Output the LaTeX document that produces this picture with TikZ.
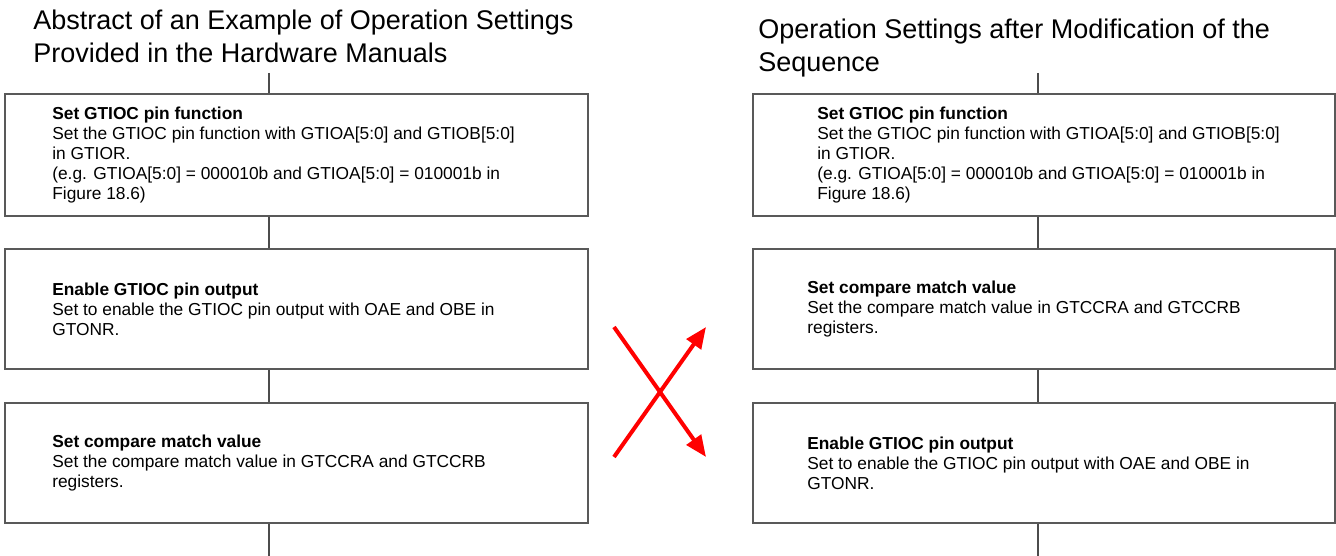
\documentclass[tikz,border=0pt]{standalone}
\usepackage{fontspec}
\setmainfont{Liberation Sans}
\usetikzlibrary{shapes,arrows.meta,positioning}

\begin{document}
\begin{tikzpicture}[x=0.75pt,y=-0.75pt,
  stepbox/.style={draw=black!65, line width=1.4pt, minimum width=437.25pt, minimum height=90pt, inner sep=0pt},
  steptext/.style={inner sep=0pt, align=left, font=\fontsize{13}{15}\selectfont},
  headtext/.style={inner sep=0pt, align=left, anchor=base west, font=\fontsize{20.25}{24.75}\selectfont},
  flowline/.style={draw=black!70, line width=1.1pt},
  swaparrow/.style={draw=red, line width=3pt, -{Triangle[length=16pt,width=13pt]}}]

\useasboundingbox (0,0) rectangle (1336,556);

% titles (placed at the baseline of their second line)
\node[headtext] (lhead) at (33,63) {Abstract of an Example of Operation Settings\\Provided in the Hardware Manuals};
\node[headtext] (rhead) at (758,72) {Operation Settings after Modification of the\\Sequence};

% left sequence
\node[stepbox, minimum height=91.5pt] (l1) at (296.5,155) {};
\node[stepbox] (l2) at (296.5,309) {};
\node[stepbox] (l3) at (296.5,463) {};

\node[steptext, right=36pt of l1.west] (l1t) {\textbf{Set GTIOC pin function}\\Set the GTIOC pin function with GTIOA[5:0] and GTIOB[5:0]\\in GTIOR.\\(e.g. GTIOA[5:0] = 000010b and GTIOA[5:0] = 010001b in\\Figure 18.6)};
\node[steptext, right=36pt of l2.west] (l2t) {\textbf{Enable GTIOC pin output}\\Set to enable the GTIOC pin output with OAE and OBE in\\GTONR.};
\node[steptext, right=36pt of l3.west] (l3t) {\textbf{Set compare match value}\\Set the compare match value in GTCCRA and GTCCRB\\registers.};

% right sequence
\node[stepbox, minimum width=436.5pt, minimum height=91.5pt] (r1) at (1044,155) {};
\node[stepbox, minimum width=436.5pt] (r2) at (1044,309) {};
\node[stepbox, minimum width=436.5pt] (r3) at (1044,463) {};

\node[steptext, right=48.75pt of r1.west] (r1t) {\textbf{Set GTIOC pin function}\\Set the GTIOC pin function with GTIOA[5:0] and GTIOB[5:0]\\in GTIOR.\\(e.g. GTIOA[5:0] = 000010b and GTIOA[5:0] = 010001b in\\Figure 18.6)};
\node[steptext, right=41.25pt of r2.west] (r2t) {\textbf{Set compare match value}\\Set the compare match value in GTCCRA and GTCCRB\\registers.};
\node[steptext, right=41.25pt of r3.west] (r3t) {\textbf{Enable GTIOC pin output}\\Set to enable the GTIOC pin output with OAE and OBE in\\GTONR.};

% flow lines
\coordinate (ltop) at (269,73);
\coordinate (lend) at (269,556);
\draw[flowline] (ltop) -- (ltop |- l1.north);
\draw[flowline] (l1.south -| ltop) -- (l2.north -| ltop);
\draw[flowline] (l2.south -| ltop) -- (l3.north -| ltop);
\draw[flowline] (l3.south -| ltop) -- (lend);

\coordinate (rtop) at (1038,73);
\coordinate (rend) at (1038,556);
\draw[flowline] (rtop) -- (rtop |- r1.north);
\draw[flowline] (r1.south -| rtop) -- (r2.north -| rtop);
\draw[flowline] (r2.south -| rtop) -- (r3.north -| rtop);
\draw[flowline] (r3.south -| rtop) -- (rend);

% swapped steps
\coordinate (xa) at (614,327);
\coordinate (xb) at (706,457);
\coordinate (xc) at (614,457);
\coordinate (xd) at (706,327);
\draw[swaparrow] (xa) -- (xb);
\draw[swaparrow] (xc) -- (xd);

\end{tikzpicture}
\end{document}
